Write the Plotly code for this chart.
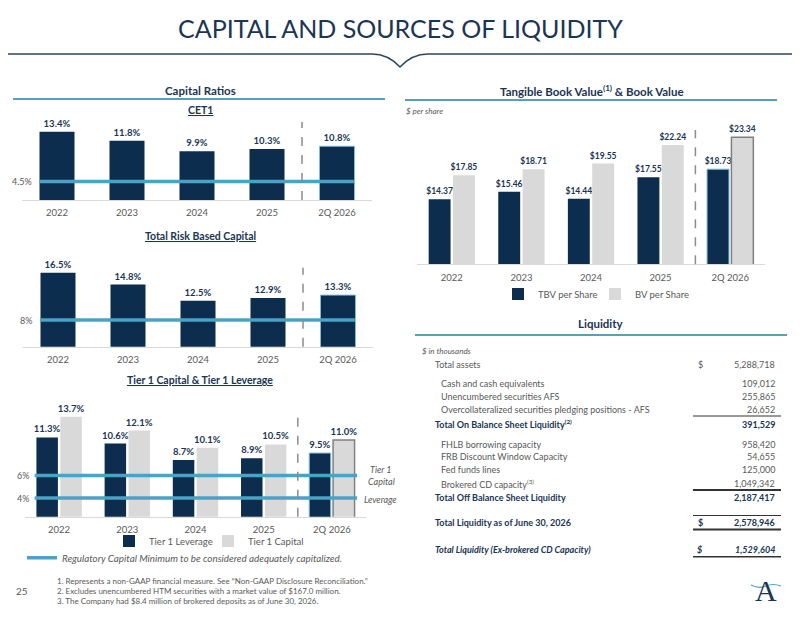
import plotly.graph_objects as go

# the page body has an 8px margin, so the figure is drawn 8px in from the corner
OFF = 8
W, H = 800 - 2 * OFF, 618 - 2 * OFF
FONT = "Lato, 'Open Sans', sans-serif"
NAVY = "#0c2d4e"
TEXT_NAVY = "#1b3553"
GRAY_BAR = "#d9d9d9"
TEAL = "#4aa3c4"
GRAY_TEXT = "#595959"
DASH = "#8c8c8c"

# ---- data ----
years = ["2022", "2023", "2024", "2025", "2Q 2026"]

cet1 = [13.4, 11.8, 9.9, 10.3, 10.8]
cet1_minimum = 4.5

total_risk_based = [16.5, 14.8, 12.5, 12.9, 13.3]
total_risk_based_minimum = 8

tier1_leverage = [11.3, 10.6, 8.7, 8.9, 9.5]
tier1_capital = [13.7, 12.1, 10.1, 10.5, 11.0]
tier1_capital_minimum = 6
leverage_minimum = 4

tbv_per_share = [14.37, 15.46, 14.44, 17.55, 18.73]
bv_per_share = [17.85, 18.71, 19.55, 22.24, 23.34]

liquidity_labels = [
    "Total assets",
    "Cash and cash equivalents",
    "Unencumbered securities AFS",
    "Overcollateralized securities pledging positions - AFS",
    "Total On Balance Sheet Liquidity<sup>(2)</sup>",
    "FHLB borrowing capacity",
    "FRB Discount Window Capacity",
    "Fed funds lines",
    "Brokered CD capacity<sup>(3)</sup>",
    "Total Off Balance Sheet Liquidity",
    "Total Liquidity as of June 30, 2026",
    "Total Liquidity (Ex-brokered CD Capacity)",
]
liquidity_values = [5288718, 109012, 255865, 26652, 391529, 958420,
                    54655, 125000, 1049342, 2187417, 2578946, 1529604]

footnotes = [
    "1. Represents a non-GAAP financial measure. See \u201cNon-GAAP Disclosure Reconciliation.\u201d",
    "2. Excludes unencumbered HTM securities with a market value of $167.0 million.",
    "3. The Company had $8.4 million of brokered deposits as of June 30, 2026.",
]


def px(x):
    return (x - OFF) / W


def py(y):
    return 1 - (y - OFF) / H


fig = go.Figure()

highlight = ["rgba(0,0,0,0)"] * 4 + ["#7fbcd6"]
outline = ["rgba(0,0,0,0)"] * 4 + ["#808080"]


def bar_text(size):
    return dict(textposition="outside", cliponaxis=False, constraintext="none",
                textfont=dict(color=TEXT_NAVY, size=size, family=FONT))


# CET1
fig.add_trace(go.Bar(x=years, y=cet1, width=0.5, marker=dict(color=NAVY, line=dict(color=highlight, width=1)),
                     texttemplate="<b>%{y:.1f}%</b>", xaxis="x", yaxis="y", showlegend=False,
                     **bar_text(9.5)))
fig.add_trace(go.Scatter(x=years, y=[cet1_minimum] * len(years), mode="lines",
                         line=dict(color=TEAL, width=3.5), xaxis="x2", yaxis="y2", showlegend=False))

# Total risk based capital
fig.add_trace(go.Bar(x=years, y=total_risk_based, width=0.5,
                     marker=dict(color=NAVY, line=dict(color=highlight, width=1)),
                     texttemplate="<b>%{y:.1f}%</b>", xaxis="x3", yaxis="y3", showlegend=False,
                     **bar_text(9.5)))
fig.add_trace(go.Scatter(x=years, y=[total_risk_based_minimum] * len(years), mode="lines",
                         line=dict(color=TEAL, width=3.5), xaxis="x4", yaxis="y4", showlegend=False))

# Tier 1
fig.add_trace(go.Bar(x=years, y=tier1_leverage, name="Tier 1 Leverage",
                     marker=dict(color=NAVY, line=dict(color=highlight, width=1)),
                     texttemplate="<b>%{y:.1f}%</b>", xaxis="x5", yaxis="y5", legend="legend2",
                     **bar_text(9.5)))
fig.add_trace(go.Bar(x=years, y=tier1_capital, name="Tier 1 Capital",
                     marker=dict(color=GRAY_BAR, line=dict(color=outline, width=1.5)),
                     texttemplate="<b>%{y:.1f}%</b>", xaxis="x5", yaxis="y5", legend="legend2",
                     **bar_text(9.5)))
fig.add_trace(go.Scatter(x=years, y=[tier1_capital_minimum] * len(years), mode="lines",
                         name="<i>Regulatory Capital Minimum to be considered adequately capitalized.</i>",
                         line=dict(color=TEAL, width=3.5), xaxis="x6", yaxis="y6", legend="legend3"))
fig.add_trace(go.Scatter(x=years, y=[leverage_minimum] * len(years), mode="lines",
                         line=dict(color=TEAL, width=3.5), xaxis="x6", yaxis="y6", showlegend=False))

# Book value
fig.add_trace(go.Bar(x=years, y=tbv_per_share, name="TBV per Share",
                     marker=dict(color=NAVY, line=dict(color=highlight, width=1)),
                     texttemplate="<b>$%{y:.2f}</b>", xaxis="x7", yaxis="y7", legend="legend",
                     **bar_text(8.5)))
fig.add_trace(go.Bar(x=years, y=bv_per_share, name="BV per Share",
                     marker=dict(color=GRAY_BAR, line=dict(color=outline, width=1.5)),
                     texttemplate="<b>$%{y:.2f}</b>", xaxis="x7", yaxis="y7", legend="legend",
                     **bar_text(8.5)))

bar_x = dict(type="category", showline=True, linecolor="#d9d9d9", linewidth=1, ticks="",
             ticklabelstandoff=4, showgrid=False, zeroline=False,
             tickfont=dict(size=9.5, color=GRAY_TEXT, family=FONT))
hidden = dict(visible=False, showgrid=False, zeroline=False)

fig.update_layout(
    xaxis=dict(bar_x, domain=[px(22), px(372)], anchor="y"),
    yaxis=dict(hidden, domain=[py(200), py(118)], range=[1.2, 15.84], anchor="x"),
    xaxis2=dict(hidden, type="category", overlaying="x", anchor="y", range=[-0.22, 4.23]),
    yaxis2=dict(hidden, overlaying="y", anchor="x", range=[1.2, 15.84]),
    xaxis3=dict(bar_x, domain=[px(23), px(373)], anchor="y3"),
    yaxis3=dict(hidden, domain=[py(346.7), py(258)], range=[5.93, 18.6], anchor="x3"),
    xaxis4=dict(hidden, type="category", overlaying="x3", anchor="y3", range=[-0.22, 4.23]),
    yaxis4=dict(hidden, overlaying="y3", anchor="x3", range=[0, 26.6]),
    xaxis5=dict(bar_x, domain=[px(25), px(366)], anchor="y5"),
    yaxis5=dict(hidden, domain=[py(516.7), py(398)], range=[2.15, 15.86], anchor="x5"),
    xaxis6=dict(hidden, type="category", overlaying="x5", anchor="y5", range=[-0.12, 4.11]),
    yaxis6=dict(hidden, overlaying="y5", anchor="x5", range=[2.35, 12.85]),
    xaxis7=dict(bar_x, domain=[px(417), px(765)], anchor="y7"),
    yaxis7=dict(hidden, domain=[py(264.3), py(120)], range=[4.96, 25.85], anchor="x7"),
    barmode="group",
    bargap=0.3,
    bargroupgap=0.1,
)

legend_style = dict(orientation="h", yanchor="middle", itemwidth=30, bgcolor="rgba(0,0,0,0)",
                    font=dict(size=9.5, color=GRAY_TEXT, family=FONT))
fig.update_layout(
    legend=dict(legend_style, x=px(595), xanchor="center", y=py(294), entrywidth=52),
    legend2=dict(legend_style, x=px(208), xanchor="center", y=py(541), entrywidth=54),
    legend3=dict(legend_style, x=px(22), xanchor="left", y=py(557.7),
                 font=dict(size=9.8, color=GRAY_TEXT, family=FONT)),
)

shapes = []
annotations = []


def text(x, y, s, size=9, color=GRAY_TEXT, anchor="center", family=FONT):
    annotations.append(dict(x=px(x), y=py(y), xref="paper", yref="paper", text=s,
                            showarrow=False, xanchor=anchor, yanchor="middle",
                            font=dict(size=size, color=color, family=family)))


def hline(x0, x1, y, color, width=1):
    shapes.append(dict(type="line", xref="paper", yref="paper", x0=px(x0), x1=px(x1),
                       y0=py(y), y1=py(y), line=dict(color=color, width=width)))


# header
text(400, 28, "CAPITAL AND SOURCES OF LIQUIDITY", size=25, color=TEXT_NAVY)
path = "M {} {} L {} {} Q {} {} {} {} Q {} {} {} {} L {} {}".format(
    px(0), py(54), px(372), py(54), px(388), py(54), px(400), py(67),
    px(412), py(54), px(428), py(54), px(800), py(54))
shapes.append(dict(type="path", xref="paper", yref="paper", path=path,
                   line=dict(color="#2c4560", width=1.5)))

# section titles
text(200, 90, "<b>Capital Ratios</b>", size=11.5, color=TEXT_NAVY)
hline(13, 385, 99, "#5a9fb8", 2)
text(200, 110, "<b><u>CET1</u></b>", size=10.5, color=TEXT_NAVY)
text(200, 236, "<b><u>Total Risk Based Capital</u></b>", size=10.5, color=TEXT_NAVY)
text(200, 380, "<b><u>Tier 1 Capital & Tier 1 Leverage</u></b>", size=10.5, color=TEXT_NAVY)

text(592, 90, "<b>Tangible Book Value<sup>(1)</sup> & Book Value</b>", size=11.5, color=TEXT_NAVY)
hline(405, 777, 100, "#5a9fb8", 2)
text(404, 111, "<i>$ per share</i>", size=8, anchor="left")

# minimum labels
for xa, yr, val, lab in [(34, "y2", cet1_minimum, "4.5%"), (34, "y4", total_risk_based_minimum, "8%"),
                         (31, "y6", tier1_capital_minimum, "6%"), (31, "y6", leverage_minimum, "4%")]:
    annotations.append(dict(x=px(xa), y=val, xref="paper", yref=yr, text=lab, showarrow=False,
                            xanchor="right", font=dict(size=9, color=GRAY_TEXT, family=FONT)))
text(381, 469, "<i>Tier 1</i>", size=9)
text(381, 481, "<i>Capital</i>", size=9)
text(380, 499, "<i>Leverage</i>", size=9)

# dashed separators
for xr, top in [("x", 0.95), ("x3", 0.89), ("x5", 0.86), ("x7", 0.93)]:
    yr = xr.replace("x", "y") + " domain"
    shapes.append(dict(type="line", xref=xr, yref=yr, x0=3.5, x1=3.5, y0=0, y1=top,
                       line=dict(color=DASH, width=1.5, dash="dash")))

# liquidity table
text(601, 323, "<b>Liquidity</b>", size=11.5, color=TEXT_NAVY)
hline(415, 787, 335, "#5a9fb8", 2)
text(420, 351, "<i>$ in thousands</i>", size=8, anchor="left")

row_y = [364, 383.3, 396.7, 409.3, 424, 444, 456.7, 469.3, 483.7, 497.3, 522.3, 549.3]
row_x = [433, 439, 439, 439, 433, 439, 439, 439, 439, 433, 433, 433]
row_bold = [False, False, False, False, True, False, False, False, False, True, True, True]
row_dollar = [True] + [False] * 9 + [True, True]
for i, (lab, val) in enumerate(zip(liquidity_labels, liquidity_values)):
    s_lab, s_val = lab, f"{val:,}"
    col = GRAY_TEXT
    if row_bold[i]:
        s_lab, s_val, col = f"<b>{s_lab}</b>", f"<b>{s_val}</b>", TEXT_NAVY
    if i == 11:
        s_lab, s_val = f"<i>{s_lab}</i>", f"<i>{s_val}</i>"
    text(row_x[i], row_y[i], s_lab, size=9, color=col, anchor="left")
    text(777, row_y[i], s_val, size=9, color=col, anchor="right")
    if row_dollar[i]:
        d = "$" if i == 0 else ("<b>$</b>" if i == 10 else "<b><i>$</i></b>")
        text(700, row_y[i], d, size=9, color=col)

hline(693, 781, 416, "#333333", 1)
hline(693, 781, 490, "#333333", 2)
hline(693, 781, 515.5, "#333333", 1)
hline(693, 781, 529.5, "#333333", 2)
hline(693, 781, 556.7, "#333333", 1.5)

# footnotes
text(22, 591, "25", size=10)
for i, note in enumerate(footnotes):
    text(55, 580.7 + 10 * i, note, size=8, anchor="left")

# logo
text(766, 590, "A", size=30, color=TEXT_NAVY, family="'Liberation Serif', serif")
logo = "M {} {} Q {} {} {} {} Q {} {} {} {}".format(
    px(751), py(585), px(759), py(589), px(766), py(586), px(773), py(583), px(781), py(586))
shapes.append(dict(type="path", xref="paper", yref="paper", path=logo,
                   line=dict(color=TEAL, width=1.2)))

fig.update_layout(
    shapes=shapes,
    annotations=annotations,
    width=W,
    height=H,
    margin=dict(l=0, r=0, t=0, b=0),
    paper_bgcolor="white",
    plot_bgcolor="rgba(0,0,0,0)",
    font=dict(family=FONT, color=GRAY_TEXT),
)

fig.write_html("out.html")
